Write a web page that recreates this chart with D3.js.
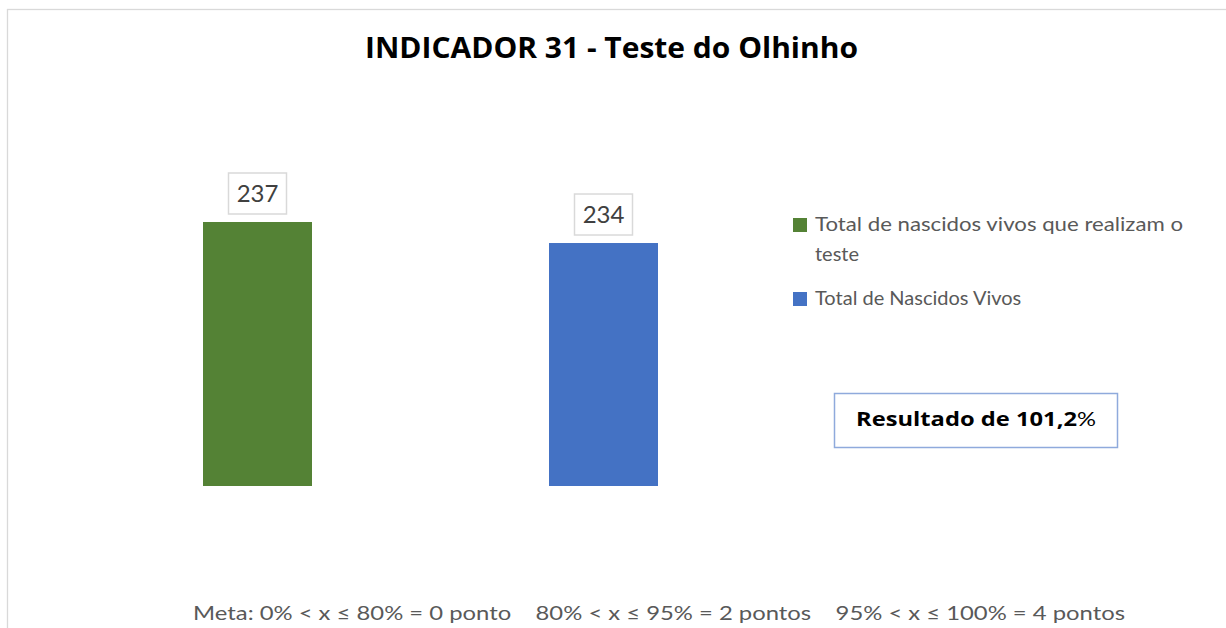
<!DOCTYPE html>
<html>
<head>
<meta charset="utf-8">
<script src="https://cdn.jsdelivr.net/npm/d3@7"></script>
<style>
  body { margin: 0; background: #fff; }
  svg { display: block; font-family: Lato, "Noto Sans", sans-serif; }
  .bold { font-family: "Open Sans", Lato, sans-serif; font-weight: bold; }
</style>
</head>
<body>
<div id="chart"></div>
<script>
// Chart data
var series = ["Total de nascidos vivos que realizam o teste", "Total de Nascidos Vivos"];
var values = [237, 234];
var colors = ["#548235", "#4472c4"];
var legendLines = [["Total de nascidos vivos que realizam o", "teste"], ["Total de Nascidos Vivos"]];
var yDomain = [199.3, 240];
var title = "INDICADOR 31 - Teste do Olhinho";
var resultText = "Resultado de 101,2";
var metaText = "Meta: 0% < x \u2264 80% = 0 ponto    80% < x \u2264 95% = 2 pontos    95% < x \u2264 100% = 4 pontos";

var width = 1226, height = 628;

var svg = d3.select("#chart").append("svg")
    .attr("width", width)
    .attr("height", height);

// Chart frame (clipped on the right and bottom)
svg.append("rect")
    .attr("x", 7.5).attr("y", 9.5)
    .attr("width", 1300).attr("height", 700)
    .attr("fill", "#fff")
    .attr("stroke", "#d9d9d9")
    .attr("stroke-width", 1.3);

// Title
svg.append("text")
    .attr("class", "bold")
    .attr("x", 611.5).attr("y", 58)
    .attr("text-anchor", "middle")
    .attr("font-size", 28)
    .attr("fill", "#000")
    .attr("textLength", 493)
    .attr("lengthAdjust", "spacingAndGlyphs")
    .text(title);

// Scales
var x = d3.scaleBand()
    .domain(series)
    .range([84.5, 776.5])
    .paddingInner(0.685)
    .paddingOuter(0.3425);

var y = d3.scaleLinear()
    .domain(yDomain)
    .range([486, 201]);

// Bars
svg.selectAll(".bar")
    .data(values)
    .enter().append("rect")
    .attr("class", "bar")
    .attr("x", function(d, i) { return x(series[i]); })
    .attr("y", function(d) { return y(d); })
    .attr("width", x.bandwidth())
    .attr("height", function(d) { return y(yDomain[0]) - y(d); })
    .attr("fill", function(d, i) { return colors[i]; });

// Data labels with boxes
var labels = svg.selectAll(".label")
    .data(values)
    .enter().append("g")
    .attr("class", "label")
    .attr("transform", function(d, i) {
        return "translate(" + (x(series[i]) + x.bandwidth() / 2) + "," + (y(d) - 8) + ")";
    });

labels.append("rect")
    .attr("x", -29).attr("y", -41)
    .attr("width", 58).attr("height", 41)
    .attr("fill", "#fff")
    .attr("stroke", "#d9d9d9")
    .attr("stroke-width", 1.5);

labels.append("text")
    .attr("x", 0).attr("y", -12)
    .attr("text-anchor", "middle")
    .attr("font-size", 24)
    .attr("fill", "#404040")
    .text(function(d) { return d; });

// Legend
var legend = svg.selectAll(".legend")
    .data(series)
    .enter().append("g")
    .attr("class", "legend")
    .attr("transform", function(d, i) { return "translate(793," + [218, 292][i] + ")"; });

legend.append("rect")
    .attr("width", 14).attr("height", 14)
    .attr("fill", function(d, i) { return colors[i]; });

legend.each(function(d, i) {
    var g = d3.select(this);
    legendLines[i].forEach(function(line, j) {
        var t = g.append("text")
            .attr("x", 22).attr("y", 13 + j * 30)
            .attr("font-size", 20)
            .attr("fill", "#595959")
            .text(line);
        if (j === 0 && i === 0) {
            t.attr("textLength", 368).attr("lengthAdjust", "spacingAndGlyphs");
        }
    });
});

// Result box
svg.append("rect")
    .attr("x", 834.5).attr("y", 393.5)
    .attr("width", 283).attr("height", 54)
    .attr("fill", "#fff")
    .attr("stroke", "#8faadc")
    .attr("stroke-width", 1.5);

var res = svg.append("text")
    .attr("x", 976).attr("y", 426)
    .attr("text-anchor", "middle")
    .attr("font-size", 20)
    .attr("fill", "#000")
    .attr("textLength", 240)
    .attr("lengthAdjust", "spacingAndGlyphs");
res.append("tspan").attr("class", "bold").text(resultText);
res.append("tspan").text("%");

// Goal footnote
svg.append("text")
    .attr("x", 193).attr("y", 620)
    .attr("font-size", 20)
    .attr("fill", "#595959")
    .attr("textLength", 932)
    .attr("lengthAdjust", "spacingAndGlyphs")
    .style("white-space", "pre")
    .text(metaText);
</script>
</body>
</html>
